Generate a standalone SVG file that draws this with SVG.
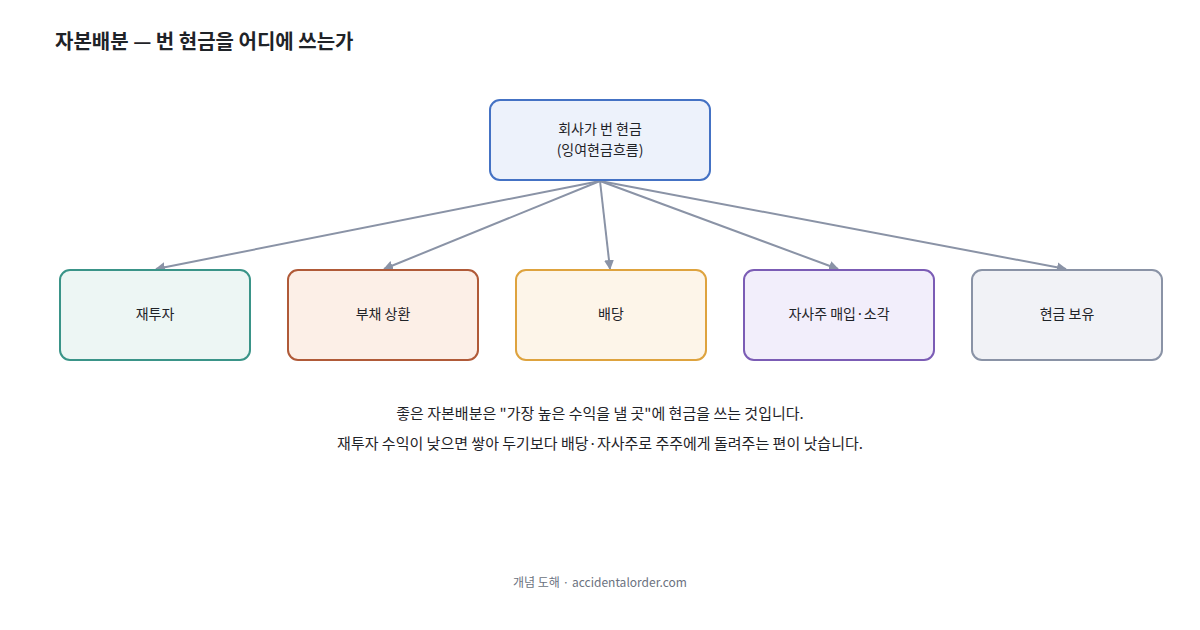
<svg xmlns="http://www.w3.org/2000/svg" width="1200" height="630" viewBox="0 0 1200 630">
<style>
text{font-family:"Noto Sans CJK KR","Noto Sans",sans-serif;fill:#1f2328;text-anchor:middle}
.lbl{font-size:14px}
.box{stroke-width:2}
.conn{stroke:#8a93a6;stroke-width:2;fill:none;marker-end:url(#ah)}
</style>
<defs><marker id="ah" viewBox="0 0 10 10" refX="9" refY="5" markerWidth="5" markerHeight="5" orient="auto"><path d="M0,0L10,5L0,10z" fill="#8a93a6"/></marker></defs>
<rect width="1200" height="630" fill="#fff"/>
<text x="55" y="49" style="font-size:20px;font-weight:700;text-anchor:start">자본배분 — 번 현금을 어디에 쓰는가</text>
<g id="connectors">
<line class="conn" x1="600" y1="181" x2="156" y2="269"/>
<line class="conn" x1="600" y1="181" x2="384" y2="269"/>
<line class="conn" x1="600" y1="181" x2="610" y2="269"/>
<line class="conn" x1="600" y1="181" x2="838" y2="269"/>
<line class="conn" x1="600" y1="181" x2="1066" y2="269"/>
</g>
<g id="root"><rect class="box" x="490" y="100" width="220" height="80" rx="10" fill="#edf2fb" stroke="#4472c4"/><text class="lbl" x="600" y="134">회사가 번 현금</text><text class="lbl" x="600" y="155">(잉여현금흐름)</text></g>
<g id="n1"><rect class="box" x="60" y="270" width="190" height="90" rx="10" fill="#edf6f4" stroke="#3a9488"/><text class="lbl" x="155" y="319">재투자</text></g>
<g id="n2"><rect class="box" x="288" y="270" width="190" height="90" rx="10" fill="#fcefe7" stroke="#b05a38"/><text class="lbl" x="383" y="319">부채 상환</text></g>
<g id="n3"><rect class="box" x="516" y="270" width="190" height="90" rx="10" fill="#fdf5e9" stroke="#dea33e"/><text class="lbl" x="611" y="319">배당</text></g>
<g id="n4"><rect class="box" x="744" y="270" width="190" height="90" rx="10" fill="#f2eefb" stroke="#7b5cb5"/><text class="lbl" x="839" y="319">자사주 매입·소각</text></g>
<g id="n5"><rect class="box" x="972" y="270" width="190" height="90" rx="10" fill="#f1f2f6" stroke="#8a93a6"/><text class="lbl" x="1067" y="319">현금 보유</text></g>
<text class="lbl" x="600" y="419" style="font-size:15px">좋은 자본배분은 "가장 높은 수익을 낼 곳"에 현금을 쓰는 것입니다.</text>
<text class="lbl" x="600" y="449" style="font-size:15px">재투자 수익이 낮으면 쌓아 두기보다 배당·자사주로 주주에게 돌려주는 편이 낫습니다.</text>
<text x="600" y="587" style="font-size:12px;fill:#6b7280">개념 도해 · accidentalorder.com</text>
</svg>
